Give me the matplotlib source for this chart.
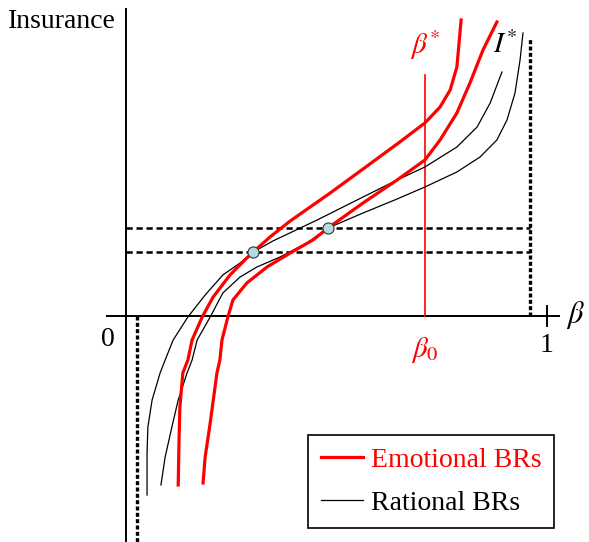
import matplotlib
matplotlib.use("Agg")
import matplotlib.pyplot as plt
from matplotlib.lines import Line2D

plt.rcParams['font.family'] = ['Liberation Serif', 'DejaVu Serif']
plt.rcParams['mathtext.fontset'] = 'stix'

# ---- data (beta on [0,1], insurance in arbitrary units) ----
red1_beta = [0.124, 0.126, 0.128, 0.135, 0.147, 0.157, 0.181, 0.207, 0.247, 0.287, 0.302,
             0.342, 0.390, 0.485, 0.563, 0.644, 0.710, 0.746, 0.770, 0.786, 0.796]
red1_ins = [-1.69, -1.24, -0.91, -0.57, -0.44, -0.24, -0.01, 0.19, 0.41, 0.58, 0.64,
            0.79, 0.95, 1.23, 1.47, 1.72, 1.93, 2.09, 2.26, 2.49, 2.96]

red2_beta = [0.183, 0.188, 0.200, 0.216, 0.223, 0.228, 0.242, 0.254, 0.287, 0.335, 0.390,
             0.444, 0.480, 0.563, 0.644, 0.710, 0.746, 0.786, 0.817, 0.848, 0.881]
red2_ins = [-1.67, -1.41, -1.07, -0.57, -0.44, -0.24, -0.01, 0.16, 0.33, 0.49, 0.63,
            0.76, 0.88, 1.13, 1.36, 1.56, 1.76, 2.03, 2.33, 2.66, 2.94]

black1_beta = [0.050, 0.050, 0.052, 0.062, 0.081, 0.093, 0.112, 0.147, 0.188, 0.230, 0.271,
               0.302, 0.349, 0.454, 0.563, 0.644, 0.710, 0.786, 0.834, 0.865, 0.893]
black1_ins = [-1.79, -1.37, -1.11, -0.84, -0.57, -0.44, -0.24, -0.01, 0.21, 0.41, 0.53,
              0.64, 0.75, 0.96, 1.19, 1.36, 1.49, 1.69, 1.89, 2.13, 2.44]

black2_beta = [0.083, 0.093, 0.109, 0.124, 0.145, 0.157, 0.169, 0.200, 0.230, 0.271, 0.311,
               0.366, 0.430, 0.480, 0.563, 0.644, 0.710, 0.786, 0.841, 0.881, 0.905, 0.924,
               0.936, 0.943]
black2_ins = [-1.69, -1.41, -1.11, -0.84, -0.57, -0.44, -0.24, -0.01, 0.23, 0.39, 0.49,
              0.59, 0.73, 0.88, 1.03, 1.17, 1.29, 1.44, 1.59, 1.76, 1.96, 2.23,
              2.56, 2.83]

eq_beta = [0.302, 0.480]
eq_ins = [0.64, 0.88]

beta0 = 0.710
beta0_top = 2.41
beta_low_bound = 0.026
beta_high_bound = 0.960
high_bound_top = 2.78
legend_labels = ["Emotional BRs", "Rational BRs"]

# ---- figure ----
fig = plt.figure(figsize=(5.89, 5.42), dpi=100)
ax = fig.add_axes([0, 0, 1, 1])
ax.set_xlim(-0.2993, 1.0998)
ax.set_ylim(-2.26, 3.16)
ax.axis('off')

# axes
ax.plot([0, 0], [-2.26, 3.08], color='black', lw=1.4, solid_capstyle='butt')
ax.plot([-0.048, 1.031], [0, 0], color='black', lw=1.4, solid_capstyle='butt')
ax.plot([1, 1], [-0.10, 0.10], color='black', lw=1.4)

# guide lines
dot = (0, (1.2, 0.7))
ax.plot([beta_low_bound, beta_low_bound], [0, -2.26], color='black', lw=2.4, linestyle=dot)
ax.plot([beta_high_bound, beta_high_bound], [0, high_bound_top], color='black', lw=2.4, linestyle=dot)
for yv in eq_ins:
    ax.plot([0, beta_high_bound], [yv, yv], color='black', lw=1.8, linestyle=(0, (2.5, 1.5)))
ax.plot([beta0, beta0], [0, beta0_top], color='red', lw=1.2)

# curves
ax.plot(black1_beta, black1_ins, color='black', lw=0.9)
ax.plot(black2_beta, black2_ins, color='black', lw=0.9)
ax.plot(red1_beta, red1_ins, color='red', lw=2.3)
ax.plot(red2_beta, red2_ins, color='red', lw=2.3)
ax.plot(eq_beta, eq_ins, linestyle='none', marker='o', markersize=8,
        markerfacecolor='#b5dcdc', markeredgecolor='#333333', markeredgewidth=0.8)

# texts
ax.text(-0.280, 2.94, "Insurance", fontsize=20, ha='left', va='center')
ax.text(-0.043, -0.24, "0", fontsize=20, ha='center', va='center')
ax.text(1.0, -0.29, "1", fontsize=20, ha='center', va='center')
ax.text(1.067, 0.01, r"$\beta$", fontsize=22, ha='center', va='center')
ax.text(beta0, 2.71, r"$\beta^{*}$", fontsize=21, ha='center', va='center', color='red')
ax.text(beta0, -0.34, r"$\beta_{0}$", fontsize=21, ha='center', va='center', color='red')
ax.text(0.900, 2.71, r"$I^{*}$", fontsize=21, ha='center', va='center', color='black')

handles = [Line2D([], [], color='red', lw=2.3), Line2D([], [], color='black', lw=0.9)]
leg = ax.legend(handles, legend_labels, loc='lower right',
                bbox_to_anchor=(554 / 589, 14 / 542), borderaxespad=0,
                fontsize=20, frameon=True, fancybox=False, edgecolor='black', framealpha=1,
                labelcolor=['red', 'black'], handlelength=1.5, handletextpad=0.3,
                borderpad=0.45, labelspacing=0.62)
leg.get_frame().set_linewidth(1.2)

fig.savefig("out.png", dpi=100)
